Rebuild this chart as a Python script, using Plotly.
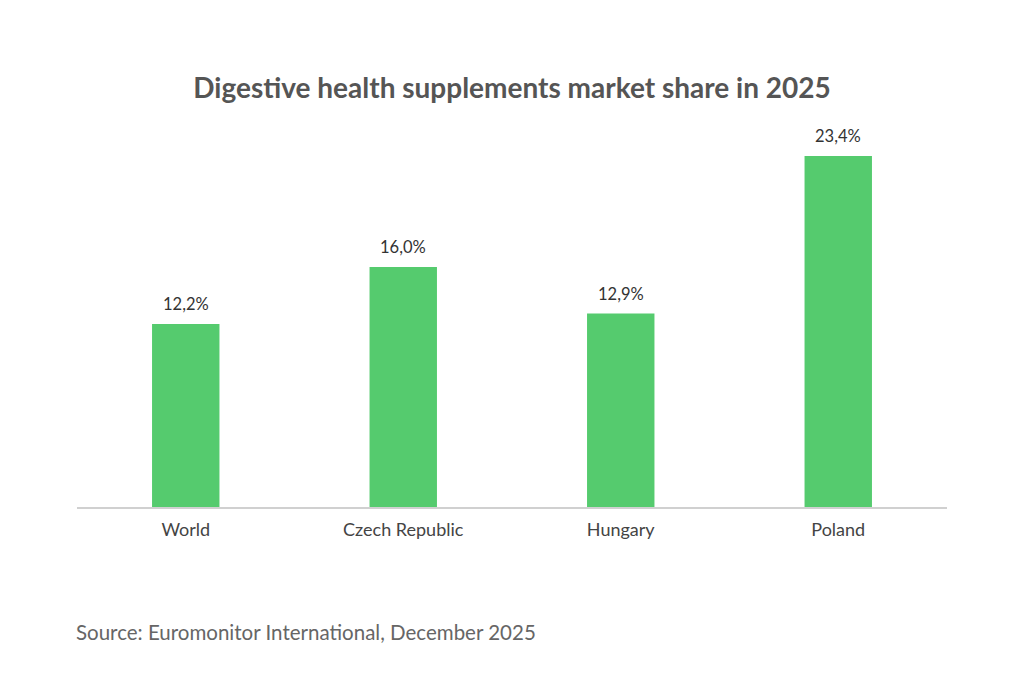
import plotly.graph_objects as go

# data
countries = ["World", "Czech Republic", "Hungary", "Poland"]
shares = [12.2, 16.0, 12.9, 23.4]
labels = ["12,2%", "16,0%", "12,9%", "23,4%"]

fig = go.Figure()

fig.add_trace(go.Bar(
    x=countries,
    y=shares,
    marker=dict(color="#55CB6E", line=dict(width=0)),
    hoverinfo="skip",
))

# value labels above the bars
for c, v, t in zip(countries, shares, labels):
    fig.add_annotation(
        x=c, y=v, text=t, showarrow=False,
        yanchor="middle", yshift=20,
        font=dict(family="Lato", size=16.5, color="#333333"),
    )

fig.add_annotation(
    text="Source: Euromonitor International, December 2025",
    xref="paper", yref="paper",
    x=-0.003, y=-0.323, xanchor="left", yanchor="middle",
    showarrow=False,
    font=dict(family="Lato", size=20.5, color="#666666"),
)

fig.update_layout(
    width=1024,
    height=683,
    paper_bgcolor="white",
    plot_bgcolor="white",
    showlegend=False,
    bargap=0.69,
    margin=dict(l=77, r=77, t=120, b=176),
    title=dict(
        text="<b>Digestive health supplements market share in 2025</b>",
        x=0.5, xanchor="center",
        y=1 - 88 / 683, yref="container", yanchor="middle",
        font=dict(family="Lato", size=28, color="#555555"),
    ),
    xaxis=dict(
        showline=True, linecolor="#D0D0D0", linewidth=1.5,
        ticks="outside", ticklen=6, tickcolor="rgba(0,0,0,0)",
        showgrid=False,
        tickfont=dict(family="Lato", size=18, color="#444444"),
    ),
    yaxis=dict(range=[0, 25.8], visible=False, showgrid=False),
)

fig.write_html("out.html", config={"displayModeBar": False},
               post_script="document.body.style.margin='0';")
